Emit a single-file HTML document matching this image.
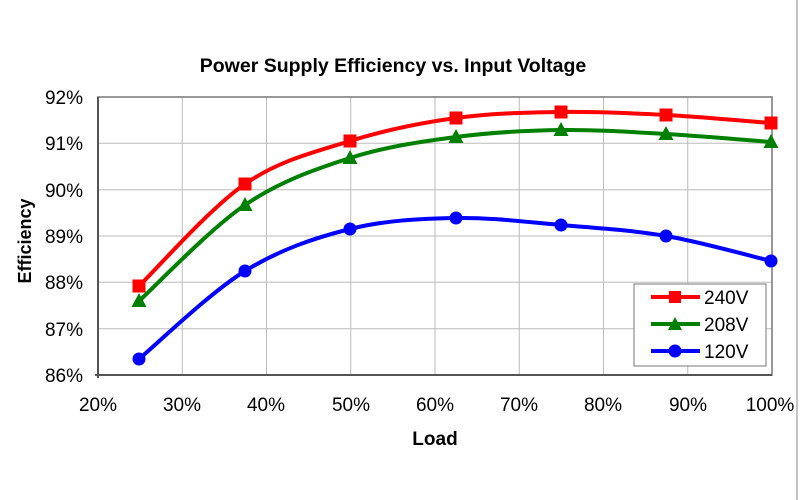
<!DOCTYPE html>
<html><head><meta charset="utf-8"><style>
body{margin:0;background:#fff}
svg{display:block;font-family:"Liberation Sans",Arial,sans-serif}
</style></head><body>
<svg id="s" width="800" height="500" xmlns="http://www.w3.org/2000/svg">
<rect width="800" height="500" fill="#fff"/>
<line x1="797" y1="0" x2="797" y2="500" stroke="#888" stroke-width="1"/>
<text x="393" y="72" text-anchor="middle" font-size="19.5" font-weight="bold">Power Supply Efficiency vs. Input Voltage</text>
<g stroke="#bbb" stroke-width="1">
<line x1="98" y1="143.3" x2="772" y2="143.3"/><line x1="98" y1="189.7" x2="772" y2="189.7"/>
<line x1="98" y1="236" x2="772" y2="236"/><line x1="98" y1="282.3" x2="772" y2="282.3"/>
<line x1="98" y1="328.7" x2="772" y2="328.7"/>
<line x1="182.25" y1="97" x2="182.25" y2="375"/><line x1="266.5" y1="97" x2="266.5" y2="375"/>
<line x1="350.75" y1="97" x2="350.75" y2="375"/><line x1="435" y1="97" x2="435" y2="375"/>
<line x1="519.25" y1="97" x2="519.25" y2="375"/><line x1="603.5" y1="97" x2="603.5" y2="375"/>
<line x1="687.75" y1="97" x2="687.75" y2="375"/>
</g>
<rect x="98" y="97" width="674" height="278" fill="none" stroke="#777" stroke-width="1.5"/>
<line x1="98" y1="97" x2="98" y2="378" stroke="#555" stroke-width="2"/>
<line x1="95" y1="375" x2="772" y2="375" stroke="#555" stroke-width="2"/>
<g font-size="19" text-anchor="end">
<text x="83" y="104">92%</text><text x="83" y="150">91%</text><text x="83" y="197">90%</text>
<text x="83" y="243">89%</text><text x="83" y="289">88%</text><text x="83" y="336">87%</text><text x="83" y="382">86%</text>
</g>
<g font-size="19" text-anchor="middle">
<text x="98" y="411">20%</text><text x="182" y="411">30%</text><text x="266" y="411">40%</text>
<text x="351" y="411">50%</text><text x="435" y="411">60%</text><text x="519" y="411">70%</text>
<text x="603" y="411">80%</text><text x="688" y="411">90%</text><text x="770" y="411">100%</text>
</g>
<text x="435" y="445" text-anchor="middle" font-size="19" font-weight="bold">Load</text>
<text transform="translate(31,241) rotate(-90)" text-anchor="middle" font-size="18" font-weight="bold">Efficiency</text>
<g id="series"></g>
<rect x="634" y="284" width="132" height="82" fill="#fff" stroke="#777" stroke-width="1"/>
<line x1="651" y1="297" x2="700" y2="297" stroke="#f00" stroke-width="4"/><rect x="669" y="291" width="12" height="12" fill="#f00"/>
<line x1="651" y1="324" x2="700" y2="324" stroke="#008000" stroke-width="4"/><polygon points="675,317 682,330 668,330" fill="#008000"/>
<line x1="651" y1="351" x2="700" y2="351" stroke="#00f" stroke-width="4"/><circle cx="675" cy="351" r="6.5" fill="#00f"/>
<g font-size="19"><text x="704" y="304">240V</text><text x="704" y="331">208V</text><text x="704" y="358">120V</text></g>
</svg>
<script>
var xs=[139,245,350,456,561,666,771];
var S=[["#f00",[286,184,141,118,112,115,123],"sq"],["#008000",[301,205,158,137,130,134,142],"tr"],["#00f",[359,271,229,218,225,236,261],"ci"]];
var g=document.getElementById("series"),h="";
S.forEach(function(s){var p=xs.map(function(x,i){return [x,s[1][i]]});
var d="M"+p[0][0]+","+p[0][1];
for(var i=0;i<p.length-1;i++){var p0=p[i-1]||p[i],p1=p[i],p2=p[i+1],p3=p[i+2]||p2,t=6;
d+=" C"+(p1[0]+(p2[0]-p0[0])/t)+","+(p1[1]+(p2[1]-p0[1])/t)+" "+(p2[0]-(p3[0]-p1[0])/t)+","+(p2[1]-(p3[1]-p1[1])/t)+" "+p2[0]+","+p2[1];}
h+='<path d="'+d+'" fill="none" stroke="'+s[0]+'" stroke-width="4"/>';
p.forEach(function(q){if(s[2]=="sq")h+='<rect x="'+(q[0]-6.5)+'" y="'+(q[1]-6.5)+'" width="13" height="13" fill="'+s[0]+'"/>';
else if(s[2]=="tr")h+='<polygon points="'+q[0]+','+(q[1]-8)+' '+(q[0]+7.5)+','+(q[1]+6)+' '+(q[0]-7.5)+','+(q[1]+6)+'" fill="'+s[0]+'"/>';
else h+='<circle cx="'+q[0]+'" cy="'+q[1]+'" r="6.5" fill="'+s[0]+'"/>';});});
g.innerHTML=h;
</script>
</body></html>
